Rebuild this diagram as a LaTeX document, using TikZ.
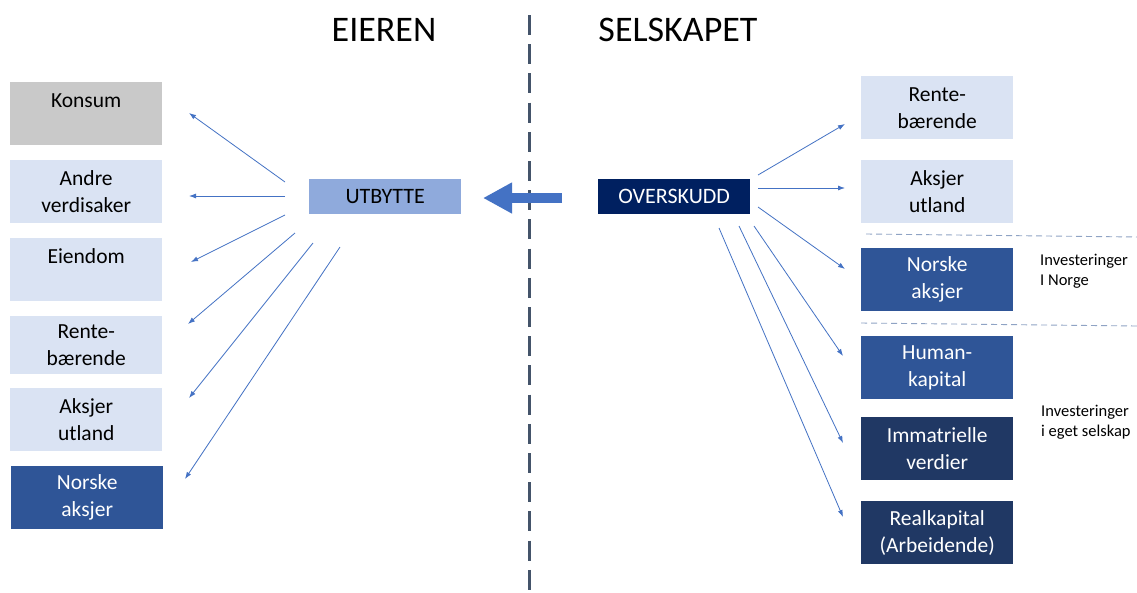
\documentclass[tikz,border=0pt]{standalone}
\usepackage{fontspec}
\setmainfont{Carlito}
\usetikzlibrary{arrows.meta}
\definecolor{lightbox}{HTML}{DAE3F3}
\definecolor{graybox}{HTML}{C9C9C9}
\definecolor{midbox}{HTML}{2F5597}
\definecolor{darkbox}{HTML}{203864}
\definecolor{utbbox}{HTML}{8FAADC}
\definecolor{navybox}{HTML}{002060}
\definecolor{arrblue}{HTML}{4472C4}
\definecolor{divider}{HTML}{44546A}
\definecolor{thindash}{HTML}{8FA3C4}
\tikzset{
  box/.style={rectangle, anchor=north west, minimum width=152pt, minimum height=63pt, inner sep=0pt, align=center, font=\fontsize{21.5}{27}\selectfont},
  lightb/.style={box, fill=lightbox, text=black},
  grayb/.style={box, fill=graybox, text=black},
  midb/.style={box, fill=midbox, text=white},
  darkb/.style={box, fill=darkbox, text=white},
  centerbox/.style={rectangle, anchor=north west, minimum width=152pt, minimum height=35pt, inner sep=0pt, font=\fontsize{22}{26}\selectfont},
  arr/.style={draw=arrblue, line width=0.8pt, -{Latex[length=7pt,width=5pt]}},
  title/.style={font=\fontsize{36}{42}\selectfont},
  note/.style={font=\fontsize{16.5}{20}\selectfont, align=left, anchor=north west, inner sep=0pt}
}
\begin{document}
\begin{tikzpicture}[x=1pt,y=-1pt]
\useasboundingbox[fill=white] (0,0) rectangle (1137,592);
% divider
\draw[divider, line width=3pt, dash pattern=on 20pt off 9.2pt] (529,15) -- (529,592);
% titles
\node[title] (eieren) at (384,30) {EIEREN};
\node[title] (selskapet) at (678,30) {SELSKAPET};
% left boxes
\node[grayb] (konsum) at (10,82) {Konsum\\\mbox{}};
\node[lightb] (andre) at (10,160) {Andre\\verdisaker};
\node[lightb] (eiendom) at (10,238) {Eiendom\\\mbox{}};
\node[lightb, minimum height=58pt] (renteL) at (10,316) {Rente-\\bærende};
\node[lightb] (aksjerL) at (10,388) {Aksjer\\utland};
\node[midb] (norskeL) at (11,466) {Norske\\aksjer};
% center boxes
\node[centerbox, fill=utbbox, text=black] (utbytte) at (309,179) {UTBYTTE};
\node[centerbox, fill=navybox, text=white] (overskudd) at (598,179) {OVERSKUDD};
% right boxes
\node[lightb] (renteR) at (861,76) {Rente-\\bærende};
\node[lightb] (aksjerR) at (861,160) {Aksjer\\utland};
\node[midb] (norskeR) at (861,248) {Norske\\aksjer};
\node[midb] (human) at (861,336) {Human-\\kapital};
\node[darkb] (immat) at (861,417) {Immatrielle\\verdier};
\node[darkb] (real) at (861,501) {Realkapital\\(Arbeidende)};
% notes
\node[note] (noteNorge) at (1040,254) {Investeringer\\I Norge};
\node[note] (noteEget) at (1041,405) {Investeringer\\i eget selskap};
% dashed separators
\coordinate (d1a) at (866,234); \coordinate (d1b) at (1137,237);
\coordinate (d2a) at (861,323); \coordinate (d2b) at (1137,326);
\draw[thindash, line width=0.9pt, dash pattern=on 6pt off 4pt] (d1a) -- (d1b);
\draw[thindash, line width=0.9pt, dash pattern=on 6pt off 4pt] (d2a) -- (d2b);
% big arrow
\coordinate (bigS) at (562,198);
\coordinate (bigE) at (483,198);
\draw[arrblue, line width=10pt, -{Triangle[length=29pt,width=29pt]}] (bigS) -- (bigE);
% left arrows
\coordinate (ls1) at (285,182); \coordinate (lt1) at (189,113);
\coordinate (ls2) at (285,196); \coordinate (lt2) at (189,196);
\coordinate (ls3) at (285,215); \coordinate (lt3) at (191,262);
\coordinate (ls4) at (295,233); \coordinate (lt4) at (188,324);
\coordinate (ls5) at (313,243); \coordinate (lt5) at (189,398);
\coordinate (ls6) at (340,247); \coordinate (lt6) at (185,479);
\foreach \i in {1,...,6} { \draw[arr] (ls\i) -- (lt\i); }
% right arrows
\coordinate (rs1) at (758,175); \coordinate (rt1) at (845,124);
\coordinate (rs2) at (758,188); \coordinate (rt2) at (845,188);
\coordinate (rs3) at (758,207); \coordinate (rt3) at (845,269);
\coordinate (rs4) at (754,226); \coordinate (rt4) at (843,356);
\coordinate (rs5) at (739,226); \coordinate (rt5) at (843,443);
\coordinate (rs6) at (719,228); \coordinate (rt6) at (843,517);
\foreach \i in {1,...,6} { \draw[arr] (rs\i) -- (rt\i); }
\end{tikzpicture}
\end{document}
